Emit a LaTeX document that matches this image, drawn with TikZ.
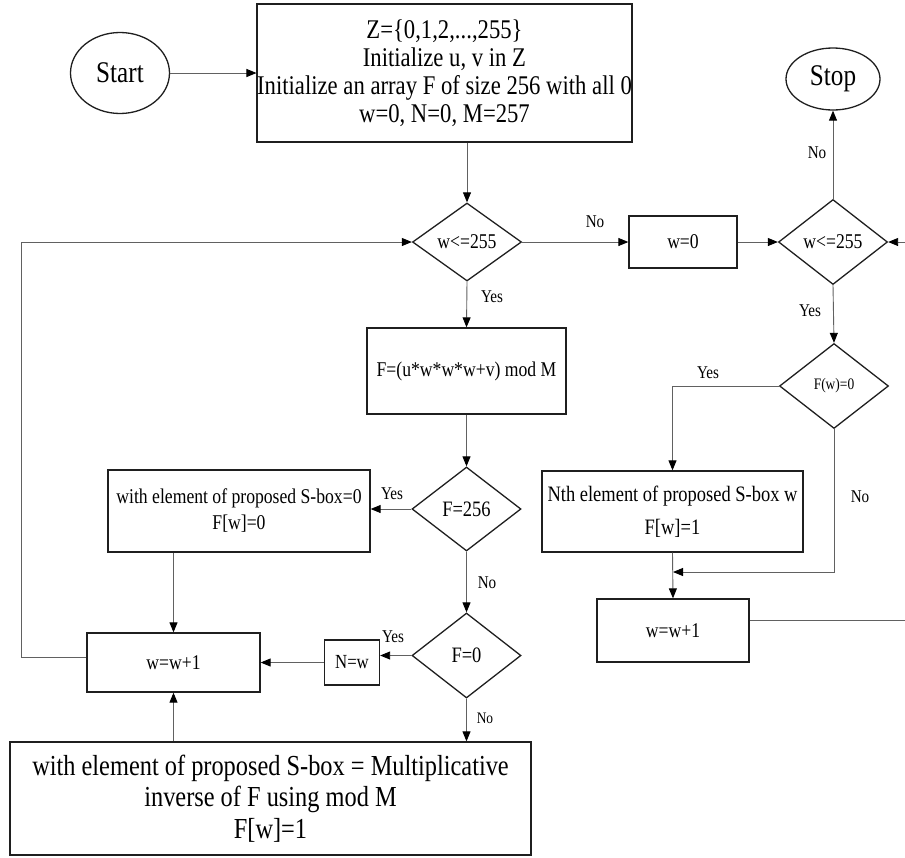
\documentclass[tikz,border=0pt]{standalone}
\usepackage{fontspec}
\setmainfont{Liberation Serif}[FakeStretch=0.84]
\usetikzlibrary{shapes.geometric,arrows.meta}

\newcommand{\fs}[1]{\fontsize{#1}{#1}\selectfont}

\tikzset{
  frame/.style={draw=black!88, line width=1.3pt},
  procbox/.style={frame, rectangle, inner sep=0pt, align=center},
  decision/.style={frame, diamond, inner sep=0pt, align=center},
  terminal/.style={frame, ellipse, inner sep=0pt},
  link/.style={draw=black!62, line width=0.9pt},
  flow/.style={link, -{Triangle[length=10pt,width=8pt,color=black]}},
  lbl/.style={font=\fs{18}, inner sep=0pt},
}

\begin{document}
\begin{tikzpicture}[x=1pt,y=-1pt]
\useasboundingbox (0,0) rectangle (905,857);

% ---- nodes ----
\node[terminal, minimum width=99, minimum height=81, font=\fs{30}] (start) at (120,73) {Start};
\node[procbox, minimum width=369, minimum height=138, font=\fontsize{27}{28}\selectfont] (init) at (444.5,73)
  {Z=\{0,1,2,...,255\}\\Initialize u, v in Z\\Initialize an array F of size 256 with all 0\\w=0, N=0, M=257};

\node[decision, minimum width=109, minimum height=78, font=\fs{21}] (d1) at (467,242) {w<=255};
\node[procbox, minimum width=108, minimum height=52, font=\fs{21}] (w0) at (683,242) {w=0};
\node[decision, minimum width=109, minimum height=85, font=\fs{21}] (d2) at (833,242) {w<=255};
\node[terminal, minimum width=94, minimum height=62, font=\fs{30}] (stop) at (833,79) {Stop};
\node[decision, minimum width=109, minimum height=85, font=\fs{16}] (d3) at (834,386) {F(w)=0};
\node[procbox, minimum width=261, minimum height=81, font=\fontsize{22}{33}\selectfont] (nth) at (672.5,511.5)
  {Nth element of proposed S-box w\\F[w]=1};
\node[procbox, minimum width=152, minimum height=63, font=\fs{21}] (inc2) at (673,630.5) {w=w+1};

\node[procbox, minimum width=199, minimum height=86, font=\fs{21}] (fbox) at (466.5,371) {F=(u*w*w*w+v) mod M};
\node[decision, minimum width=109, minimum height=84, font=\fs{22}] (d4) at (466.5,509) {F=256};
\node[procbox, minimum width=262, minimum height=82, font=\fontsize{21}{26}\selectfont] (sbox0) at (239,511)
  {with element of proposed S-box=0\\F[w]=0};
\node[decision, minimum width=109, minimum height=85, font=\fs{22}] (d5) at (466.5,655.5) {F=0};
\node[procbox, minimum width=55, minimum height=45, font=\fs{20}] (nw) at (352,662.5) {N=w};
\node[procbox, minimum width=173, minimum height=59, font=\fs{21}] (inc1) at (173.5,662.5) {w=w+1};
\node[procbox, minimum width=521, minimum height=113, font=\fontsize{29}{31.5}\selectfont] (big) at (270.5,798.5)
  {with element of proposed S-box = Multiplicative\\inverse of F using mod M\\F[w]=1};

% ---- helper points ----
\coordinate (m)  at (673,572);
\coordinate (r1) at (905,620);
\coordinate (r2) at (905,242);
\coordinate (l1) at (21,657);

% ---- connectors ----
\draw[flow] (start) -- (init);
\draw[flow] (init.south -| d1.north) -- (d1.north);
\draw[flow] (d1.east) -- (w0.west);
\draw[flow] (w0.east) -- (d2.west);
\draw[flow] (d2.north) -- (stop.south);
\draw[flow] (d2.south) -- (d3.north);
\draw[flow] (d3.west) -| (nth.north);
\draw[flow] (d3.south) |- (m);
\draw[flow] (nth.south) -- (inc2.north);
\draw[link] (inc2.east |- r1) -- (r1);
\draw[flow] (r2) -- (d2.east);

\draw[flow] (d1.south) -- (fbox.north);
\draw[flow] (fbox.south) -- (d4.north);
\draw[flow] (d4.west) -- (d4.west -| sbox0.east);
\draw[flow] (d4.south) -- (d5.north);
\draw[flow] (d5.west) -- (d5.west -| nw.east);
\draw[flow] (nw.west) -- (nw.west -| inc1.east);
\draw[flow] (sbox0.south -| inc1.north) -- (inc1.north);
\draw[flow] (inc1.south |- big.north) -- (inc1.south);
\draw[flow] (d5.south) -- (d5.south |- big.north);
\draw[flow] (l1 -| inc1.west) -- (l1) |- (d1.west);

% ---- branch labels ----
\node[lbl] (n1) at (595,222) {No};
\node[lbl] (n2) at (817,153) {No};
\node[lbl] (y2) at (810,311) {Yes};
\node[lbl] (y3) at (708,373) {Yes};
\node[lbl] (n3) at (860,497) {No};
\node[lbl] (y1) at (492,297) {Yes};
\node[lbl] (y4) at (392,494) {Yes};
\node[lbl] (n4) at (487,583) {No};
\node[lbl] (y5) at (393,637) {Yes};
\node[lbl, font=\fs{16}] (n5) at (485,718) {No};
\end{tikzpicture}
\end{document}
